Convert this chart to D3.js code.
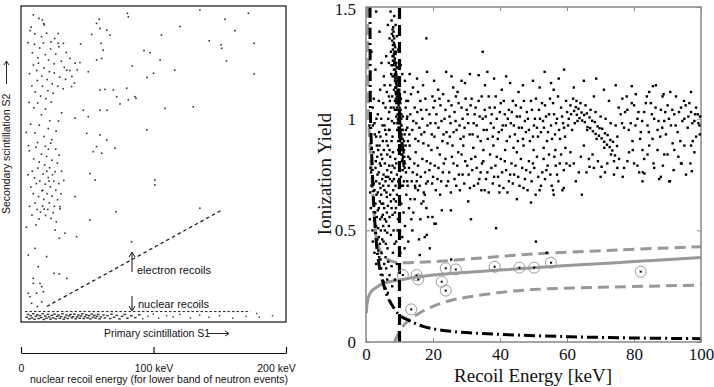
<!DOCTYPE html>
<html lang="en">
  <head>
    <meta charset="UTF-8" />
    <title>recoil discrimination</title>
    <script src="https://cdnjs.cloudflare.com/ajax/libs/d3/7.9.0/d3.min.js"></script>
    <style>
      body { margin: 0; background: #fff; }
      svg { display: block; }
      .sans { font-family: "Liberation Sans", Arial, sans-serif; }
      .serif { font-family: "Liberation Serif", "Times New Roman", serif; }
    </style>
  </head>
  <body>
    <div id="wrapper"></div>
    <script>
      // ---------- left panel data (S1 in keV-equivalent, S2 in arbitrary 0-100) ----------
      const energyTicks = [0, 100, 200];
      const erCluster = [[5.3,88.4],[8.6,85.2],[10.2,87.9],[12.7,83.6],[14.1,86.7],[16.9,88.3],[18.4,84.6],[20.8,82.9],[22.3,86.4],[24.9,81.7],[26.2,84.8],[28.6,87.1],[30.4,82.5],[32.7,80.6],[34.2,85.3],[36.8,79.6],[9.4,81.3],[11.8,79.6],[13.2,81.9],[15.7,77.8],[17.3,80.4],[19.8,76.7],[21.4,79.2],[23.6,75.4],[25.1,78.8],[27.7,74.6],[29.2,77.5],[31.9,73.8],[6.4,78.6],[8.2,74.7],[10.7,72.8],[12.3,76.4],[14.8,71.5],[16.2,74.6],[18.9,70.7],[20.3,73.2],[22.8,69.6],[24.4,72.4],[6.1,69.5],[9.7,67.8],[12.6,69.3],[15.4,65.6],[18.5,67.4],[21.7,63.7],[7.3,62.6],[10.5,59.8],[13.8,62.3],[17.4,58.7],[20.6,61.2],[23.2,57.7],[5.6,55.8],[26.5,60.4],[28.3,63.6],[30.7,66.2],[15.5,90.3],[19.3,91.4],[22.6,88.6],[10.4,91.2],[7.6,93.3],[25.4,89.7],[28.1,91.3],[17.2,94.4],[13.5,96.1],[33.6,76.8],[38.4,77.7],[40.3,75.6],[42.5,79.8]];
      const erCluster2 = [[6.3,54.2],[9.6,51.6],[11.2,55.3],[13.7,50.6],[15.4,53.1],[17.8,49.7],[19.3,52.4],[21.6,48.8],[23.3,51.2],[25.7,47.6],[27.4,50.3],[8.5,47.7],[10.3,45.6],[12.8,48.7],[14.2,44.6],[16.7,46.8],[18.3,43.6],[20.6,45.7],[22.2,42.8],[24.8,44.6],[26.3,41.7],[28.5,43.8],[30.2,40.6],[7.4,42.7],[9.2,40.6],[11.6,43.8],[13.3,39.7],[15.8,41.6],[17.2,38.8],[19.7,40.6],[21.3,37.7],[23.5,39.8],[25.2,36.6],[27.6,38.7],[29.4,35.8],[10.6,37.7],[12.2,35.6],[14.7,34.8],[16.3,36.7],[18.6,33.7],[20.2,35.6],[22.7,32.8],[24.3,34.6],[26.6,31.7],[6.5,36.6],[8.3,33.8],[11.4,30.7],[13.6,32.6],[5.2,46.6],[30.6,47.7],[32.3,44.8],[18.4,55.6],[20.7,54.7],[22.4,56.6],[12.5,56.8],[26.2,54.7],[28.7,52.8],[16.4,41.6],[19.5,47.7],[21.2,44.6],[23.8,46.6],[17.5,35.7]];
      const erSparse = [[9.3,97.2],[16.1,95.6],[17.6,94],[6.8,92.2],[80.3,97.7],[81,96.6],[135,98.7],[154,95.8],[171.6,97.7],[161.5,92.2],[120,93.5],[142,89],[151,87.7],[151.5,86.6],[176,88.2],[155,82.6],[176,78.5],[106,90.8],[92.8,85.9],[97.4,85.2],[116,79.7],[105,82.9],[95,77.4],[100,78.7],[108.7,67.6],[130,68.1],[95,60.8],[101,44.9],[101,43.4],[135,36],[83.5,25.4],[71.7,34.9],[59,95.8],[57,94.5],[59.6,92.9],[53.3,91],[64.7,92.4],[67.2,90.8],[60.4,88.2],[57.1,82.9],[60.9,83.4],[50.8,79.2],[44.5,82.1],[40.8,81.9],[37,83.4],[32,88.2],[28,88.2],[34.5,79.7],[38.2,74.5],[59.6,73.4],[63.4,73.6],[69.7,73.4],[72.2,71.3],[86,71.3],[86.8,70.8],[79.8,74],[81,70.3],[50.8,65],[59.6,67],[65,67],[74.7,69],[49.6,59.7],[59.6,59.2],[64.7,57.6],[54.6,53.9],[57,55.5],[60.9,53.4],[47,67],[40.8,64.5],[70.9,55],[52,47],[55.9,44.9],[40.8,39.7],[42,27],[52,32.3],[29.4,36.5],[33.2,28.1],[29,26.5],[25.7,29.1],[24.9,15.4],[19.4,20.7],[10.6,23.3],[5.5,21.2],[9.3,12.2],[14.3,12.2],[16.9,9.6],[11.8,9.1],[6.8,8],[8,5.9],[12.3,4.9],[15.6,6.4],[9.3,13.8],[13,17.5],[28.9,15.2],[34.5,13.8],[5.5,9.1],[15.6,11.2],[4,30],[4,60],[45,88],[62,86],[84,81]];
      const nrBand = [[4,1.5],[5,2.4],[6,1.0],[7,2.0],[8,1.3],[9,2.6],[10,0.9],[11,1.8],[12,2.3],[13,1.1],[14,2.0],[15,1.4],[16,2.6],[17,0.8],[18,1.9],[19,1.2],[20,2.4],[21,1.6],[22,0.9],[23,2.1],[24,1.3],[25,2.5],[26,1.0],[27,1.8],[28,2.2],[29,1.2],[30,1.7],[31,2.6],[32,0.9],[33,1.5],[34,2.2],[35,1.1],[36,1.9],[37,2.4],[38,1.3],[39,1.7],[40,2.5],[41,1.0],[42,1.6],[43,2.2],[44,1.2],[45,1.9],[46,2.6],[47,1.1],[48,1.7],[49,2.3],[50,1.3],[51,2.0],[52,1.0],[53,2.5],[54,1.5],[55,2.1],[56,1.2],[57,1.8],[58,2.4],[59,1.0],[60,1.6],[62,2.2],[63,1.3],[65,2.0],[67,1.1],[68,2.5],[70,1.5],[72,2.1],[74,1.0],[76,1.8],[78,2.4],[80,1.2],[83,2.0],[86,1.4],[89,2.3],[92,1.0],[96,1.8],[100,2.5],[104,1.2],[110,2.0],[115,1.6],[120,2.4],[128,1.3],[135,2.2],[142,1.5],[150,2.0],[160,1.2],[170,1.8],[178,2.7],[180,1.5],[190,2.0]];
      const erLine = [[19.4,4.9],[151.4,35.4]];
      const nrLine = [[3,3.3],[173,3.3]];

      // ---------- right panel data (recoil energy keV, ionization yield) ----------
      const xTicksR = [0, 20, 40, 60, 80, 100];
      const yTicksR = [0, 0.5, 1, 1.5];
      const ridgePts = [[7.6,1.44],[7.9,1.40],[8.1,1.37],[7.8,1.35],[8.3,1.34],[8.0,1.31],[8.5,1.30],[8.2,1.28],[8.6,1.27],[8.4,1.25],[8.8,1.24],[8.3,1.22],[8.9,1.21],[8.6,1.20],[9.1,1.19],[8.7,1.18],[9.3,1.17],[8.9,1.16],[9.5,1.15],[9.0,1.14],[9.4,1.13],[8.8,1.12],[9.6,1.11],[9.2,1.10],[9.8,1.09],[9.4,1.08],[9.0,1.07],[9.7,1.06],[10.0,1.05],[9.3,1.04],[9.9,1.03],[9.6,1.02],[10.2,1.01],[9.5,1.00],[10.1,0.99],[9.8,0.98],[10.4,0.97],[9.7,0.96],[10.3,0.95],[10.0,0.94],[10.6,0.93],[9.9,0.92],[10.5,0.91],[10.2,0.90],[10.8,0.89],[10.4,0.88],[11.0,0.87],[10.6,0.86],[11.2,0.85],[10.8,0.84],[11.4,0.83],[10.9,0.82],[11.1,0.80],[11.5,0.78],[8.5,1.33],[9.2,1.23],[9.9,1.12],[10.5,1.02],[10.9,0.95],[11.3,0.9],[8.0,1.26],[8.9,1.09],[9.3,0.98],[9.6,0.9],[10.0,0.85],[7.5,1.2],[7.2,1.15],[7.8,1.1],[8.2,1.05],[11.8,1.05],[12.2,1.0],[11.9,0.95],[12.5,0.9],[11.5,1.12],
        [8.1,1.41],[7.7,1.38],[8.4,1.36],[8.0,1.33],[8.7,1.32],[8.3,1.29],[7.9,1.28],[8.8,1.29],[8.5,1.26],[9.0,1.25],[8.1,1.24],[8.7,1.22],[9.2,1.23],[8.4,1.19],[9.0,1.2],[8.6,1.17],[9.4,1.18],[9.1,1.15],[8.7,1.14],[9.7,1.16],[9.3,1.12],[8.9,1.11],[9.9,1.13],[9.5,1.09],[9.1,1.08],[10.0,1.1],[9.6,1.07],[9.2,1.05],[10.2,1.07],[9.8,1.04],[9.4,1.02],[10.3,1.04],[10.0,1.01],[9.6,0.99],[10.5,1.0],[10.2,0.98],[9.8,0.96],[10.6,0.97],[10.3,0.94],[9.9,0.93],[10.8,0.95],[10.5,0.92],[10.1,0.91],[10.9,0.91],[10.6,0.89],[10.3,0.87],[11.1,0.88],[10.8,0.86],[10.5,0.84],[11.3,0.86],[11.0,0.83],[10.7,0.81],[11.4,0.81],[11.2,0.79],[10.9,0.77],[11.6,0.8],[9.9,1.16],[9.0,1.3],[8.2,1.39],[10.4,1.09],[11.0,1.01],[11.5,0.93],[7.4,1.3],[7.6,1.24],[7.9,1.19],[8.3,1.13],[8.6,1.08],[9.0,1.01],[9.3,0.95],[9.6,0.86],[10.0,0.8],[10.4,0.74],[11.3,0.72],[10.7,0.7],[11.8,0.88],[12.3,0.96],[12.0,1.08],[11.6,1.17],[10.8,1.2],[10.3,1.24],[9.6,1.31],[9.2,1.37],[8.8,1.42],[8.4,1.46],[7.3,1.48],[7.0,1.36],[6.8,1.25],[7.1,1.08],[11.9,0.76],[12.6,0.83],[9.2,0.75],[9.8,0.69]];
      const lowEPts = [[1.2,1.12],[2.0,1.05],[3.5,1.02],[5.5,1.15],[6.2,1.12],[6.8,1.1],[5.8,1.05],[4.5,1.0],[2.5,0.98],[3.0,0.92],[1.5,0.9],[4.0,0.88],[5.0,0.9],[6.0,0.93],[7.0,0.95],[6.5,0.88],[2.2,0.85],[3.3,0.83],[4.8,0.82],[5.6,0.8],[7.2,0.83],[8.0,0.85],[1.8,0.8],[2.8,0.78],[3.8,0.76],[4.4,0.79],[5.2,0.75],[6.3,0.77],[7.5,0.76],[8.5,0.78],[2.0,0.74],[3.0,0.72],[4.0,0.71],[4.8,0.73],[5.8,0.72],[6.7,0.7],[7.8,0.72],[8.8,0.7],[1.6,0.7],[2.5,0.68],[3.5,0.67],[4.5,0.66],[5.5,0.68],[6.2,0.65],[7.2,0.66],[8.3,0.64],[9.2,0.66],[2.8,0.62],[3.8,0.6],[4.6,0.62],[5.4,0.6],[6.5,0.61],[7.6,0.6],[8.6,0.58],[3.2,0.56],[4.2,0.55],[5.0,0.57],[6.0,0.54],[7.0,0.56],[3.6,0.51],[4.4,0.5],[5.6,0.5],[6.8,0.52],[3.4,0.46],[4.1,0.44],[5.2,0.45],[6.4,0.42],[4.6,0.4],[5.8,0.38],[3.9,0.38],[6.0,0.33],[7.0,0.3],[5.2,0.27],[6.5,0.22],[7.2,0.18],[4.5,0.33],[8.0,0.4],[9.0,0.45],[9.5,0.55],[8.2,0.5],[2.4,0.55],[1.4,0.6],[1.9,0.5],[7.9,0.92],[8.4,0.98],[6.6,1.0],[7.4,1.05],[3.8,1.08],[1.0,0.97],[1.3,0.78],[9.6,0.72],[9.0,0.8],[8.9,0.6],[3.0,1.48],[4.0,1.39],[6.5,1.42],[10.5,0.62],[11.2,0.58],[12.0,0.66],[11.6,0.52],[10.8,0.47],[12.8,0.6],[13.5,0.55],[14.5,0.64],[11.0,0.7],[12.3,0.72],[10.2,0.4],[11.5,0.42],[15.5,0.68],[16.5,0.62],[18.5,0.56],[17.5,0.47],[19.0,0.42],
        [2.3,1.09],[4.2,1.13],[5.1,1.07],[6.9,1.03],[3.1,1.0],[4.9,0.97],[5.7,0.95],[2.6,0.93],[4.3,0.92],[7.6,0.9],[1.7,0.87],[3.6,0.86],[5.3,0.86],[6.3,0.84],[2.9,0.81],[4.1,0.8],[6.9,0.79],[8.7,0.82],[1.5,0.76],[3.4,0.75],[5.9,0.74],[7.1,0.73],[2.3,0.71],[4.3,0.69],[5.1,0.7],[8.1,0.68],[3.1,0.66],[6.1,0.67],[7.4,0.63],[2.1,0.64],[4.1,0.63],[5.1,0.62],[8.9,0.63],[3.5,0.59],[6.2,0.58],[7.9,0.57],[2.7,0.58],[4.7,0.56],[5.6,0.55],[3.0,0.52],[5.1,0.52],[6.3,0.49],[7.4,0.48],[3.8,0.47],[4.8,0.46],[5.9,0.44],[3.6,0.41],[4.3,0.37],[5.4,0.35],[6.6,0.36],[7.6,0.34],[4.9,0.3],[6.3,0.28],[7.8,0.25],[5.8,0.24],[8.6,0.28],[9.2,0.35],[8.5,0.44],[9.4,0.5],[1.2,0.67],[1.1,0.55],[2.0,0.45],[2.5,0.4],[3.0,0.35],[6.8,0.95],[7.7,0.99],[8.6,1.04],[5.3,1.19],[4.6,1.25],[6.0,1.28],[2.8,1.22],[1.6,1.3],[5.5,0.97],[6.1,0.9],[7.0,0.86],[3.9,0.94],[2.0,0.97],[3.2,0.88],[4.5,0.84],[6.6,0.74],[7.9,0.79],[8.3,0.73],
        [13.2,0.64],[14.1,0.58],[15.1,0.72],[16.2,0.55],[17.1,0.63],[13.8,0.5],[15.8,0.46],[12.6,0.45],[14.6,0.7],[17.9,0.71]];
      const bandPts = [[12.5,1.08],[13.2,1.02],[13.8,0.95],[14.5,1.05],[15.0,0.98],[15.6,0.9],[16.2,1.08],[16.8,1.0],[17.4,0.94],[18.0,1.04],[18.6,0.88],[19.2,0.98],[19.8,1.1],[20.4,0.92],[21.0,1.02],[21.6,0.96],[22.2,1.06],[22.8,0.9],[23.4,1.0],[24.0,0.94],[24.6,1.08],[25.2,0.98],[25.8,0.88],[26.4,1.03],[27.0,0.95],[27.6,1.07],[28.2,0.91],[28.8,1.0],[29.4,0.96],[30.0,1.04],[13.0,0.88],[14.8,0.85],[16.5,0.93],[19.5,0.86],[22.0,0.84],[25.0,0.92],[27.5,0.85],[29.0,0.88],[15.5,1.12],[20.5,1.08],[23.0,1.11],[26.8,1.1],[14.0,1.14],[17.0,1.15],[18.2,1.21],[18.0,1.36],[21.5,1.13],[23.9,1.21],[26.0,1.14],[28.5,1.17],[30.5,0.98],[31.2,1.06],[31.8,0.93],[32.4,1.02],[33.0,0.97],[33.6,1.08],[34.2,0.9],[34.8,1.0],[35.4,1.04],[36.0,0.95],[36.6,1.1],[37.2,0.98],[37.8,0.92],[38.4,1.05],[39.0,1.0],[39.6,0.94],[40.2,1.07],[40.8,0.97],[41.4,1.02],[42.0,0.9],[42.6,1.04],[43.2,0.98],[43.8,1.08],[44.4,0.93],[45.0,1.01],[45.6,0.96],[46.2,1.05],[46.8,0.91],[47.4,0.99],[48.0,1.03],[48.6,0.95],[49.2,1.08],[49.8,0.92],[50.4,1.0],[51.0,0.96],[51.6,1.04],[52.2,0.94],[52.8,0.99],[53.4,1.06],[54.0,0.9],[54.6,1.02],[55.2,0.97],[55.8,1.07],[56.4,0.93],[57.0,1.0],[57.6,0.95],[58.2,1.05],[58.8,0.98],[59.4,0.92],[60.0,1.03],[32.0,0.87],[35.0,0.86],[38.0,0.88],[41.5,0.86],[44.0,0.87],[47.0,0.88],[50.0,0.86],[53.0,0.87],[56.5,0.86],[59.5,0.87],[31.0,1.2],[33.6,1.195],[35.5,1.15],[38.2,1.18],[40.5,1.13],[43.0,1.16],[45.5,1.12],[49.8,1.17],[53.3,1.21],[56.0,1.13],[59.1,1.22],[57.5,1.18],[34.8,1.3],[60.5,1.0],[61.0,1.06],[61.5,0.95],
        [62.1,1.035],[62.6,1.052],[62.9,1.018],[63.4,1.045],[63.7,1.003],[64.3,1.028],[64.5,0.992],[65.1,1.017],[65.3,0.985],[65.9,1.024],[66.1,0.963],[66.7,1.006],[66.9,0.958],[67.5,0.991],[67.7,0.944],[68.3,0.985],[68.5,0.932],[69.1,0.966],[69.5,0.924],[69.7,0.958],[70.3,0.912],[70.5,0.955],[71.1,0.897],[71.3,0.935],[71.9,0.884],[72.1,0.927],[72.7,0.873],[72.9,0.905],[73.5,0.858],[73.7,0.897],[74.3,0.836],[74.9,0.878],
        [62.8,1.08],[64.0,1.07],[65.5,1.06],[67.0,1.04],[68.5,1.03],[70.0,1.01],[71.5,1.0],[73.0,0.98],[74.5,0.97],[76.0,1.02],[77.0,0.96],[78.0,1.04],[79.0,0.98],[80.0,1.06],[81.0,1.0],[82.0,0.94],[83.0,1.03],[84.0,0.97],[85.0,1.07],[86.0,1.0],[87.0,0.95],[88.0,1.04],[89.0,0.99],[90.0,1.06],[91.0,0.97],[92.0,1.02],[93.0,0.94],[94.0,1.05],[95.0,1.0],[96.0,0.96],[97.0,1.03],[98.0,0.99],[99.0,1.02],[99.5,0.97],[98.5,1.05],[96.5,1.07],[92.5,1.1],[88.5,1.1],[84.5,1.12],[80.5,1.11],[76.5,1.09],[72.5,1.08],[68.0,1.1],[68.7,1.18],[79.3,1.146],[85.6,1.146],[88.8,1.11],[75.0,0.92],[79.5,0.9],[85.5,0.91],[91.5,0.89],[97.5,0.9],[89.5,0.93],[82.5,0.86],
        [12.3,1.01],[12.9,0.93],[13.4,1.11],[14.1,0.99],[14.7,0.91],[15.3,1.03],[15.9,0.96],[16.4,1.04],[17.1,0.89],[17.7,1.09],[18.3,0.97],[18.9,1.02],[19.6,0.93],[20.1,1.05],[20.7,0.98],[21.3,0.87],[21.9,1.09],[22.5,0.99],[23.1,0.93],[23.7,1.04],[24.3,0.89],[24.9,1.01],[25.5,1.06],[26.1,0.94],[26.7,0.99],[27.3,1.12],[27.9,0.97],[28.5,1.05],[29.1,0.92],[29.7,1.09],
        [30.3,1.02],[30.9,0.93],[31.5,1.09],[32.1,0.98],[32.7,1.05],[33.3,0.92],[33.9,1.01],[34.5,1.1],[35.1,0.95],[35.7,1.01],[36.3,0.91],[36.9,1.05],[37.5,1.02],[38.1,0.96],[38.7,1.1],[39.3,0.91],[39.9,1.03],[40.5,0.95],[41.1,1.08],[41.7,0.97],[42.3,1.0],[42.9,0.92],[43.5,1.03],[44.1,0.97],[44.7,1.06],[45.3,0.9],[45.9,1.01],[46.5,0.96],[47.1,1.08],[47.7,0.94],[48.3,1.0],[48.9,0.9],[49.5,1.04],[50.1,0.97],[50.7,1.09],[51.3,0.92],[51.9,1.0],[52.5,1.07],[53.1,0.96],[53.7,1.01],[54.3,0.94],[54.9,1.09],[55.5,0.91],[56.1,1.02],[56.7,0.98],[57.3,1.1],[57.9,0.91],[58.5,1.01],[59.1,0.96],[59.7,1.08],
        [60.3,0.97],[61.2,1.02],[61.8,1.09],[62.3,0.98],[63.1,0.99],[66.0,0.95],[68.8,0.91],[71.1,0.87],[74.0,0.81],[75.4,1.05],[76.4,0.98],[77.3,1.03],[78.4,0.95],[79.3,1.07],[80.4,0.97],[81.3,1.03],[82.4,0.99],[83.5,1.07],[84.4,0.94],[85.3,1.02],[86.4,1.05],[87.3,0.99],[88.4,0.96],[89.3,1.03],[90.4,1.0],[91.4,1.04],[92.4,0.97],[93.4,1.03],[94.4,0.99],[95.4,1.06],[96.2,1.01],[97.4,0.98],[98.2,1.02],[99.2,0.98],[99.7,1.01],[77.8,1.1],[83.8,1.1],[90.8,1.12],[94.9,1.08],[81.8,0.91],[87.8,0.92],[93.8,0.9],
        [13.0,1.2],[15.2,1.18],[20.3,1.17],[25.5,1.19],[29.5,1.16],[36.2,1.21],[41.8,1.19],[46.8,1.15],[51.8,1.14],[55.2,1.16],[62.0,1.14],[65.0,1.17],[71.0,1.13],[74.5,1.15],[86.5,1.15],[97.0,1.12]];
      const lowBandPts = [[12.8,0.78],[13.6,0.72],[14.4,0.8],[15.2,0.75],[16.0,0.7],[16.8,0.82],[17.6,0.76],[18.4,0.72],[19.2,0.8],[20.0,0.74],[20.8,0.68],[21.6,0.78],[22.4,0.72],[23.2,0.8],[24.0,0.7],[24.8,0.76],[25.6,0.83],[26.4,0.73],[27.2,0.79],[28.0,0.68],[28.8,0.75],[29.6,0.81],[30.6,0.75],[31.4,0.82],[32.2,0.7],[33.0,0.78],[33.8,0.73],[34.6,0.8],[35.4,0.68],[36.2,0.76],[37.0,0.84],[37.8,0.71],[38.6,0.79],[39.4,0.74],[40.2,0.82],[41.0,0.69],[41.8,0.77],[42.6,0.72],[43.4,0.8],[44.2,0.75],[45.0,0.85],[45.8,0.7],[46.6,0.78],[47.4,0.73],[48.2,0.68],[49.0,0.76],[49.8,0.8],[50.6,0.66],[51.4,0.74],[52.2,0.7],[53.0,0.82],[53.8,0.77],[54.6,0.84],[55.4,0.7],[56.2,0.83],[57.0,0.75],[57.8,0.8],[58.6,0.68],[34.4,0.68],[39.8,0.67],[45,0.64],[49.2,0.625],[56,0.66],[59,0.69],[30.5,0.63],[17.5,0.66],[18.0,0.6],[19.8,0.56],[20.4,0.53],[22.6,0.59],[25.3,0.59],[31.3,0.55],[38.8,0.51],[18.1,0.48],[20.8,0.53],[50.7,0.45],[53.9,0.4],[64.4,0.66],[25.4,0.37],[16,0.39],[61.0,0.85],[62.0,0.8],[63.5,0.76],[65.0,0.88],[66.5,0.82],[68.0,0.78],[70.0,0.74],[72.0,0.8],[74.0,0.75],[75.5,0.82],[77.0,0.78],[78.5,0.85],[80.0,0.8],[81.5,0.76],[83.0,0.82],[84.5,0.88],[86.0,0.78],[87.5,0.73],[89.0,0.84],[90.5,0.72],[92.0,0.86],[94.0,0.8],[95.5,0.75],[97.0,0.88],[98.5,0.92],[66.7,0.785],[70.3,0.785],[83.1,0.755],[88,0.74],[90.7,0.72],[97.2,0.765],[94.2,0.8],[82.5,0.72],
        [12.4,0.7],[13.1,0.82],[13.9,0.76],[14.7,0.69],[15.5,0.79],[16.3,0.74],[17.2,0.67],[18.1,0.81],[18.9,0.77],[19.7,0.71],[20.5,0.79],[21.3,0.73],[22.1,0.66],[22.9,0.76],[23.7,0.82],[24.5,0.72],[25.3,0.67],[26.1,0.8],[26.9,0.7],[27.7,0.75],[28.5,0.84],[29.3,0.71],
        [30.2,0.79],[31.0,0.69],[31.7,0.77],[32.6,0.83],[33.4,0.71],[34.2,0.76],[35.0,0.81],[35.8,0.73],[36.6,0.67],[37.4,0.78],[38.2,0.74],[39.0,0.83],[39.8,0.7],[40.6,0.76],[41.4,0.81],[42.2,0.67],[43.0,0.75],[43.8,0.71],[44.6,0.79],[45.4,0.74],[46.2,0.82],[47.0,0.69],[47.8,0.77],[48.6,0.81],[49.4,0.72],[50.2,0.78],[51.0,0.83],[51.8,0.68],[52.6,0.76],[53.4,0.73],[54.2,0.79],[55.0,0.75],[55.8,0.68],[56.6,0.79],[57.4,0.72],[58.2,0.84],[59.0,0.77],[59.8,0.8],
        [60.8,0.79],[62.6,0.72],[64.1,0.83],[65.8,0.76],[67.6,0.84],[69.2,0.81],[71.3,0.76],[73.1,0.84],[75.0,0.78],[76.6,0.74],[78.0,0.81],[79.6,0.86],[81.0,0.79],[82.6,0.76],[84.0,0.84],[85.8,0.8],[87.0,0.86],[88.6,0.79],[90.0,0.84],[91.8,0.77],[93.2,0.83],[95.0,0.88],[96.8,0.8],[98.0,0.85],[99.6,0.93]];
      const circledPts = [[11.0,0.30],[15.1,0.30],[15.6,0.28],[22.6,0.27],[23.8,0.33],[23.8,0.23],[26.8,0.325],[38.4,0.337],[45.8,0.333],[50.2,0.333],[55.2,0.355],[82.0,0.315],[13.5,0.146]];
      const yieldFit = [[0.1,0.13],[0.3,0.17],[0.7,0.2],[1.5,0.225],[2.7,0.24],[5,0.262],[10,0.278],[20,0.3],[40,0.322],[60,0.342],[80,0.36],[100,0.378]];
      const upperBand = [[0.5,1.5],[0.6,1.2],[0.8,1.0],[1.3,0.85],[1.9,0.7],[2.3,0.6],[2.8,0.5],[3.4,0.44],[4.5,0.4],[6,0.375],[8,0.36],[10,0.355],[20,0.36],[35,0.377],[50,0.394],[75,0.412],[100,0.427]];
      const lowerBand = [[8.5,0],[9.5,0.03],[11,0.07],[13,0.1],[16,0.13],[20,0.16],[25,0.185],[30,0.2],[40,0.222],[50,0.235],[70,0.245],[100,0.255]];
      const thresholdCurve = [[1.2,1.5],[1.25,1.2],[1.35,1.0],[1.8,0.8],[2.3,0.62],[2.8,0.5],[3.4,0.4],[4.2,0.32],[5.2,0.26],[6.5,0.2],[8,0.16],[10,0.12],[13,0.095],[17,0.07],[22,0.054],[30,0.042],[40,0.034],[60,0.024],[80,0.018],[100,0.015]];
      const energyCut = [[10, 0], [10, 1.5]];

      const svg = d3.select("#wrapper").append("svg")
        .attr("width", 714).attr("height", 387);

      // ================= left panel =================
      const L = { left: 21, right: 286, top: 6, bottom: 322 };
      const xL = d3.scaleLinear().domain([0, 200]).range([L.left, L.right]);
      const yL = d3.scaleLinear().domain([0, 100]).range([L.bottom, L.top]);
      const left = svg.append("g").attr("class", "sans");

      left.append("rect")
        .attr("x", L.left).attr("y", L.top)
        .attr("width", L.right - L.left).attr("height", L.bottom - L.top)
        .attr("fill", "none").attr("stroke", "#111").attr("stroke-width", 1.2);

      const lDots = erCluster.concat(erCluster2, erSparse);
      left.append("g").selectAll("rect").data(lDots).join("rect")
        .attr("x", d => xL(d[0]) - 0.8).attr("y", d => yL(d[1]) - 0.8)
        .attr("width", 1.6).attr("height", 1.6).attr("fill", "#333");
      left.append("g").selectAll("rect").data(nrBand).join("rect")
        .attr("x", d => xL(d[0]) - 0.9).attr("y", d => yL(d[1]) - 0.7)
        .attr("width", d => d[0] < 90 ? 2.6 : 1.4).attr("height", 1.4).attr("fill", "#333");

      const lineL = d3.line().x(d => xL(d[0])).y(d => yL(d[1]));
      left.append("path").attr("d", lineL(erLine))
        .attr("fill", "none").attr("stroke", "#222").attr("stroke-width", 1.3)
        .attr("stroke-dasharray", "3.5,3");
      left.append("path").attr("d", lineL(nrLine))
        .attr("fill", "none").attr("stroke", "#222").attr("stroke-width", 1)
        .attr("stroke-dasharray", "2.5,2");

      // arrows + labels
      left.append("path").attr("d", "M132,272 L132,253 M129,257 L132,252 L135,257")
        .attr("fill", "none").attr("stroke", "#111").attr("stroke-width", 1);
      left.append("text").attr("x", 137).attr("y", 274).attr("font-size", 11)
        .attr("fill", "#111").text("electron recoils");
      left.append("path").attr("d", "M132,296 L132,310 M129,306 L132,311 L135,306")
        .attr("fill", "none").attr("stroke", "#111").attr("stroke-width", 1);
      left.append("text").attr("x", 138).attr("y", 308).attr("font-size", 11)
        .attr("fill", "#111").text("nuclear recoils");

      left.append("text").attr("x", 104).attr("y", 337).attr("font-size", 10.5)
        .attr("fill", "#111").text("Primary scintillation  S1");
      left.append("path").attr("d", "M208,333.5 L228,333.5 M225,331 L229,333.5 L225,336")
        .attr("fill", "none").attr("stroke", "#111").attr("stroke-width", 0.9);

      const yLab = left.append("g").attr("transform", "translate(10,214) rotate(-90)");
      yLab.append("text").attr("x", 0).attr("y", 0).attr("font-size", 10.5)
        .attr("fill", "#111").text("Secondary scintillation  S2");
      yLab.append("path").attr("d", "M130,-3.5 L152,-3.5 M149,-6 L153,-3.5 L149,-1")
        .attr("fill", "none").attr("stroke", "#111").attr("stroke-width", 0.9);

      // recoil energy scale under the left panel
      const eAxis = d3.axisBottom(xL).tickValues(energyTicks)
        .tickSizeInner(-6).tickSizeOuter(0).tickPadding(12)
        .tickFormat(d => d === 0 ? "0" : d + " keV");
      const eG = left.append("g").attr("transform", "translate(0,353)").call(eAxis);
      eG.select(".domain").attr("stroke", "#111").attr("stroke-width", 1.2);
      eG.selectAll(".tick line").attr("stroke", "#111").attr("stroke-width", 1.2);
      eG.selectAll(".tick text").attr("font-size", 10.5).attr("fill", "#111")
        .attr("font-family", "Liberation Sans, Arial, sans-serif")
        .attr("dx", d => d === 200 ? -10 : 0);
      left.append("text").attr("x", 159).attr("y", 383).attr("text-anchor", "middle")
        .attr("font-size", 10.5).attr("fill", "#111")
        .text("nuclear recoil energy (for lower band of neutron events)");

      // ================= right panel =================
      const R = { left: 366, right: 701, top: 7, bottom: 342 };
      const xR = d3.scaleLinear().domain([0, 100]).range([R.left, R.right]);
      const yR = d3.scaleLinear().domain([0, 1.5]).range([R.bottom, R.top]);
      const right = svg.append("g").attr("class", "serif");

      right.append("clipPath").attr("id", "clipR").append("rect")
        .attr("x", R.left).attr("y", R.top)
        .attr("width", R.right - R.left).attr("height", R.bottom - R.top);

      const axisCol = "#888";
      const styleAxis = (g, labels) => {
        g.select(".domain").remove();
        g.selectAll(".tick line").attr("stroke", axisCol).attr("stroke-width", 1);
        g.selectAll(".tick text").attr("font-size", 17).attr("fill", "#111")
          .attr("font-family", "Liberation Serif, Times New Roman, serif");
        if (!labels) g.selectAll(".tick text").remove();
      };
      right.append("g").attr("transform", `translate(0,${R.bottom})`)
        .call(d3.axisBottom(xR).tickValues(xTicksR).tickSizeInner(-4).tickSizeOuter(0).tickPadding(6))
        .call(g => styleAxis(g, true));
      right.append("g").attr("transform", `translate(0,${R.top})`)
        .call(d3.axisTop(xR).tickValues(xTicksR).tickSizeInner(-4).tickSizeOuter(0))
        .call(g => styleAxis(g, false));
      right.append("g").attr("transform", `translate(${R.left},0)`)
        .call(d3.axisLeft(yR).tickValues(yTicksR).tickSizeInner(-4).tickSizeOuter(0).tickPadding(10)
          .tickFormat(d3.format("")))
        .call(g => styleAxis(g, true))
        .call(g => g.selectAll(".tick text").filter(d => d === 1.5).attr("dy", "0.45em"));
      right.append("g").attr("transform", `translate(${R.right},0)`)
        .call(d3.axisRight(yR).tickValues(yTicksR).tickSizeInner(-4).tickSizeOuter(0))
        .call(g => styleAxis(g, false));

      // model curves (clipped to the plot box)
      const plot = right.append("g").attr("clip-path", "url(#clipR)");
      const curve = d3.line().x(d => xR(d[0])).y(d => yR(d[1]))
        .curve(d3.curveCatmullRom.alpha(0.5));
      plot.append("path").attr("d", curve(yieldFit))
        .attr("fill", "none").attr("stroke", "#999").attr("stroke-width", 3);
      plot.append("path").attr("d", curve(upperBand))
        .attr("fill", "none").attr("stroke", "#999").attr("stroke-width", 3)
        .attr("stroke-dasharray", "11,6");
      plot.append("path").attr("d", curve(lowerBand))
        .attr("fill", "none").attr("stroke", "#999").attr("stroke-width", 3)
        .attr("stroke-dasharray", "11,6");
      plot.append("path").attr("d", curve(thresholdCurve))
        .attr("fill", "none").attr("stroke", "#000").attr("stroke-width", 3)
        .attr("stroke-dasharray", "11,4,2,4");
      plot.append("path").attr("d", curve(energyCut))
        .attr("fill", "none").attr("stroke", "#000").attr("stroke-width", 3.2)
        .attr("stroke-dasharray", "11,6");

      // events
      const evG = svg.append("g");
      const drawDots = (arr) => evG.append("g").selectAll("rect").data(arr).join("rect")
        .attr("x", d => xR(d[0]) - 1.1).attr("y", d => yR(d[1]) - 1.1)
        .attr("width", 2.4).attr("height", 2.4).attr("fill", "#000");
      drawDots(lowEPts);
      drawDots(ridgePts);
      drawDots(bandPts);
      drawDots(lowBandPts);

      const circ = evG.append("g").selectAll("g").data(circledPts).join("g")
        .attr("transform", d => `translate(${xR(d[0])},${yR(d[1])})`);
      circ.append("circle").attr("r", 5.5).attr("fill", "none")
        .attr("stroke", "#999").attr("stroke-width", 1);
      circ.append("rect").attr("x", -1).attr("y", -1).attr("width", 2).attr("height", 2)
        .attr("fill", "#000");

      right.append("rect")
        .attr("x", R.left).attr("y", R.top)
        .attr("width", R.right - R.left).attr("height", R.bottom - R.top)
        .attr("fill", "none").attr("stroke", axisCol).attr("stroke-width", 1.5);

      right.append("text").attr("x", 533).attr("y", 382).attr("text-anchor", "middle")
        .attr("font-size", 19).attr("fill", "#111").text("Recoil Energy [keV]");
      right.append("text").attr("transform", "translate(331,174) rotate(-90)")
        .attr("text-anchor", "middle").attr("font-size", 19).attr("fill", "#111")
        .text("Ionization Yield");
    </script>
  </body>
</html>
